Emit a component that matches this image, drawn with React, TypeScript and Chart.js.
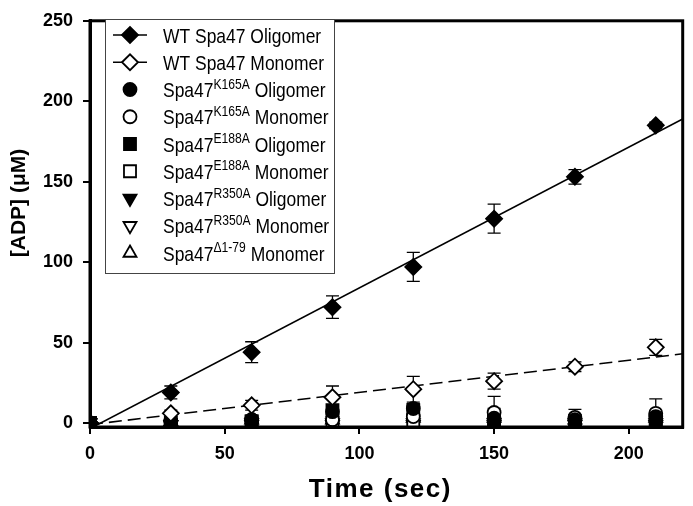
import React, { useEffect, useRef } from 'react';
import { Chart, registerables } from 'chart.js';
import { drawPoint } from 'chart.js/helpers';

Chart.register(...registerables);

// ---------- data ----------
const times = [0, 30, 60, 90, 120, 150, 180, 210];

const wtOligomer = [0, 19, 44, 72, 97, 127, 153, 185];
const wtOligomerErr = [1, 4, 6.5, 7, 9, 9, 4.5, 2];
const wtMonomer = [0, 6, 11, 16, 21, 26, 35, 47];
const wtMonomerErr = [1, 2, 3, 7, 8, 5, 3, 5];
const k165aOligomer = [0, 1, 2, 7, 9, 3, 2, 4];
const k165aOligomerErr = [0, 1, 1, 2, 3, 2, 1, 2];
const k165aMonomer = [0, 1, 2, 2, 4, 6.5, 3.5, 6];
const k165aMonomerErr = [0, 1, 1, 1, 2, 10, 5, 9];
const e188aOligomer = [0, 0, 1, 8, 8, 2, 1, 2];
const e188aOligomerErr = [0, 1, 1, 2, 3, 7, 1, 2];
const e188aMonomer = [0, -1, 1, 0, 1, 1, 1, 1];
const e188aMonomerErr = [0, 1, 1, 1, 1, 1, 1, 1];
const r350aOligomer = [0, -1, 0, 0, 0, 0, 0, 0];
const r350aOligomerErr = [0, 1, 1, 1, 1, 1, 1, 1];
const r350aMonomer = [0, -1, -1, -1, -1, -1, -1, -1];
const r350aMonomerErr = [0, 1, 1, 1, 1, 1, 1, 1];
const delta179Monomer = [0, 1, 2, 2, 3, 3, 2, 3];
const delta179MonomerErr = [0, 1, 1, 1, 1, 1, 1, 1];

const fitX = [0, 220];
const oligomerFit = [-3.5, 189];
const monomerFit = [-1, 43];

const xTicks = [0, 50, 100, 150, 200];
const yTicks = [0, 50, 100, 150, 200, 250];

const legendBase = ['WT Spa47', 'WT Spa47', 'Spa47', 'Spa47', 'Spa47', 'Spa47', 'Spa47', 'Spa47', 'Spa47'];
const legendSup = ['', '', 'K165A', 'K165A', 'E188A', 'E188A', 'R350A', 'R350A', '\u03941-79'];
const legendSuffix = ['Oligomer', 'Monomer', 'Oligomer', 'Monomer', 'Oligomer', 'Monomer', 'Oligomer', 'Monomer', 'Monomer'];

const xTitle = 'Time (sec)';
const yTitle = '[ADP] (\u03bcM)';

// ---------- styles ----------
const FONT = "'Liberation Sans', Arial, sans-serif";
type Sty = { style: string; rot: number; r: number; filled: boolean; line?: 'solid' | 'dash' };
const styles: Sty[] = [
  { style: 'rectRot', rot: 0, r: 8, filled: true, line: 'solid' },
  { style: 'rectRot', rot: 0, r: 8, filled: false, line: 'dash' },
  { style: 'circle', rot: 0, r: 6.5, filled: true },
  { style: 'circle', rot: 0, r: 6.5, filled: false },
  { style: 'rect', rot: 0, r: 8.5, filled: true },
  { style: 'rect', rot: 0, r: 8.5, filled: false },
  { style: 'triangle', rot: 180, r: 7.5, filled: true },
  { style: 'triangle', rot: 180, r: 7.5, filled: false },
  { style: 'triangle', rot: 0, r: 7.5, filled: false },
];

const seriesValues = [wtOligomer, wtMonomer, k165aOligomer, k165aMonomer, e188aOligomer, e188aMonomer, r350aOligomer, r350aMonomer, delta179Monomer];
const seriesErrors = [wtOligomerErr, wtMonomerErr, k165aOligomerErr, k165aMonomerErr, e188aOligomerErr, e188aMonomerErr, r350aOligomerErr, r350aMonomerErr, delta179MonomerErr];

const errorBarPlugin = {
  id: 'errorBars',
  beforeDatasetsDraw(chart: any) {
    const { ctx, chartArea } = chart;
    const xs = chart.scales.x;
    const ys = chart.scales.y;
    ctx.save();
    ctx.beginPath();
    ctx.rect(chartArea.left, chartArea.top, chartArea.right - chartArea.left, chartArea.bottom - chartArea.top);
    ctx.clip();
    ctx.strokeStyle = '#000';
    ctx.lineWidth = 1.3;
    chart.data.datasets.forEach((ds: any) => {
      if (!ds.err) return;
      ds.data.forEach((p: any, i: number) => {
        const e = ds.err[i];
        if (!e) return;
        const px = xs.getPixelForValue(p.x);
        const top = ys.getPixelForValue(p.y + e);
        const bot = ys.getPixelForValue(p.y - e);
        ctx.beginPath();
        ctx.moveTo(px, top);
        ctx.lineTo(px, bot);
        ctx.moveTo(px - 6.5, top);
        ctx.lineTo(px + 6.5, top);
        ctx.moveTo(px - 6.5, bot);
        ctx.lineTo(px + 6.5, bot);
        ctx.stroke();
      });
    });
    ctx.restore();
  },
};

const decorPlugin = {
  id: 'decor',
  afterDraw(chart: any) {
    const { ctx, chartArea } = chart;
    ctx.save();
    // frame
    ctx.strokeStyle = '#000';
    ctx.lineWidth = 3;
    ctx.strokeRect(chartArea.left, chartArea.top, chartArea.right - chartArea.left, chartArea.bottom - chartArea.top);

    // axis titles
    ctx.fillStyle = '#000';
    ctx.font = `bold 26px ${FONT}`;
    ctx.textAlign = 'center';
    ctx.textBaseline = 'middle';
    (ctx as any).letterSpacing = '1.5px';
    ctx.fillText(xTitle, (chartArea.left + chartArea.right) / 2 - 6, 490);
    (ctx as any).letterSpacing = '0px';
    ctx.save();
    ctx.translate(19, 203);
    ctx.rotate(-Math.PI / 2);
    ctx.font = `bold 21px ${FONT}`;
    ctx.fillText(yTitle, 0, 0);
    ctx.restore();

    // legend
    const bx = 105, by = 19, bw = 229, bh = 254;
    ctx.fillStyle = '#fff';
    ctx.fillRect(bx, by, bw, bh);
    ctx.strokeStyle = '#444';
    ctx.lineWidth = 1;
    ctx.strokeRect(bx + 0.5, by + 0.5, bw, bh);
    const symX = 130;
    const textX = 163;
    legendBase.forEach((base, i) => {
      const cy = 35 + i * 27.25;
      const st = styles[i];
      if (st.line) {
        ctx.beginPath();
        ctx.strokeStyle = '#000';
        ctx.lineWidth = 1.5;
        ctx.moveTo(113, cy);
        ctx.lineTo(147, cy);
        ctx.stroke();
      }
      ctx.fillStyle = st.filled ? '#000' : '#fff';
      ctx.strokeStyle = '#000';
      ctx.lineWidth = 1.8;
      drawPoint(ctx, { pointStyle: st.style as any, rotation: st.rot, radius: st.r, borderWidth: 1.8 } as any, symX, cy);
      ctx.fillStyle = '#000';
      ctx.textAlign = 'left';
      ctx.textBaseline = 'alphabetic';
      const baseY = cy + 7.5;
      ctx.save();
      ctx.translate(textX, baseY);
      ctx.scale(0.97, 1.12);
      ctx.font = `18px ${FONT}`;
      let x = 0;
      ctx.fillText(base, x, 0);
      x += ctx.measureText(base).width;
      if (legendSup[i]) {
        ctx.font = `12.5px ${FONT}`;
        ctx.fillText(legendSup[i], x, -7.5);
        x += ctx.measureText(legendSup[i]).width;
        ctx.font = `18px ${FONT}`;
      }
      ctx.fillText(' ' + legendSuffix[i], x, 0);
      ctx.restore();
    });
    ctx.restore();
  },
};

export default function App() {
  const ref = useRef<HTMLCanvasElement>(null);
  useEffect(() => {
    if (!ref.current) return;
    const datasets: any[] = [
      {
        type: 'line',
        label: 'fit oligomer',
        data: fitX.map((x, i) => ({ x, y: oligomerFit[i] })),
        borderColor: '#000',
        borderWidth: 1.6,
        pointRadius: 0,
        fill: false,
        order: 20,
      },
      {
        type: 'line',
        label: 'fit monomer',
        data: fitX.map((x, i) => ({ x, y: monomerFit[i] })),
        borderColor: '#000',
        borderWidth: 1.6,
        borderDash: [13, 6],
        pointRadius: 0,
        fill: false,
        order: 20,
      },
    ];
    seriesValues.forEach((vals, k) => {
      const st = styles[k];
      datasets.push({
        type: 'scatter',
        label: legendBase[k] + legendSup[k] + ' ' + legendSuffix[k],
        data: times.map((t, i) => ({ x: t, y: vals[i] })),
        err: seriesErrors[k],
        pointStyle: st.style,
        pointRotation: st.rot,
        pointRadius: st.r,
        pointBorderWidth: 1.8,
        pointBackgroundColor: st.filled ? '#000' : '#fff',
        pointBorderColor: '#000',
        showLine: false,
        order: k,
      });
    });
    const chart = new Chart(ref.current, {
      type: 'scatter',
      data: { datasets },
      options: {
        animation: false,
        responsive: false,
        maintainAspectRatio: false,
        layout: { padding: { top: 8, right: 4, left: 0, bottom: 0 } },
        plugins: { legend: { display: false }, tooltip: { enabled: false }, title: { display: false } },
        scales: {
          x: {
            type: 'linear',
            min: 0,
            max: 220,
            afterBuildTicks: (s: any) => { s.ticks = xTicks.map((v) => ({ value: v })); },
            afterFit: (s: any) => { s.height = 79; },
            grid: { display: true, drawOnChartArea: false, drawTicks: true, tickLength: 7, color: '#000', lineWidth: 2 },
            border: { display: true, color: '#000', width: 3 },
            ticks: { color: '#000', font: { family: FONT, weight: 'bold', size: 18 }, padding: 9, maxRotation: 0 },
          },
          y: {
            type: 'linear',
            min: -2.5,
            max: 250,
            afterBuildTicks: (s: any) => { s.ticks = yTicks.map((v) => ({ value: v })); },
            afterFit: (s: any) => { s.width = 90; },
            grid: { display: true, drawOnChartArea: false, drawTicks: true, tickLength: 7, color: '#000', lineWidth: 2 },
            border: { display: true, color: '#000', width: 3 },
            ticks: { color: '#000', font: { family: FONT, weight: 'bold', size: 18 }, padding: 10 },
          },
        },
      },
      plugins: [errorBarPlugin, decorPlugin],
    } as any);
    return () => chart.destroy();
  }, []);
  return (
    <div style={{ position: 'fixed', left: 0, top: 0, width: 693, height: 506, background: '#fff' }}>
      <canvas ref={ref} width={693} height={506} style={{ width: 693, height: 506, display: 'block' }} />
    </div>
  );
}
